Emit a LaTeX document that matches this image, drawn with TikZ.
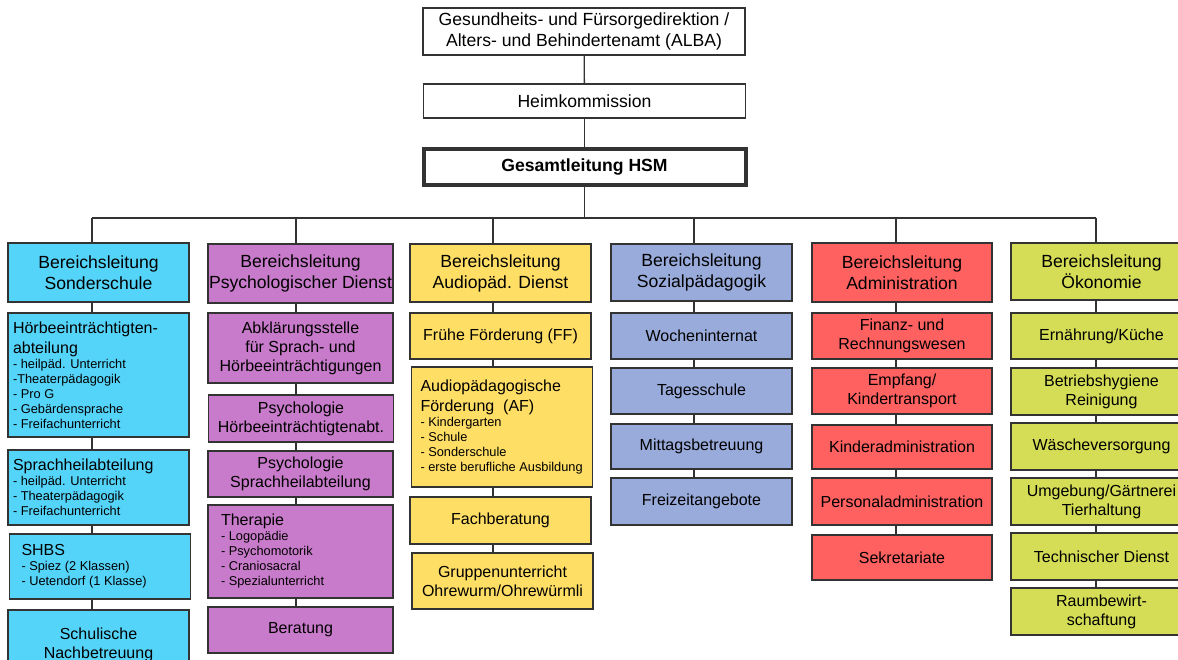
\documentclass[tikz,border=0pt]{standalone}
\usepackage{fontspec}
\setmainfont{Liberation Sans}
\usepackage{tikz}
\usetikzlibrary{calc,positioning}
\definecolor{mycyan}{RGB}{85,212,250}
\definecolor{mypurple}{RGB}{200,123,202}
\definecolor{myyellow}{RGB}{255,222,102}
\definecolor{mylavender}{RGB}{153,171,219}
\definecolor{myred}{RGB}{255,96,96}
\definecolor{myolive}{RGB}{212,221,85}
\newcommand{\bigfont}{\fontsize{17.6}{21}\selectfont}
\newcommand{\itemfont}{\fontsize{16}{19}\selectfont}
\newcommand{\smallfont}{\fontsize{12.8}{15}\selectfont}
\tikzstyle{box}=[draw=black!80,line width=1.5pt,inner sep=0pt,align=center,font=\itemfont]
\tikzstyle{topbox}=[box,fill=white,font=\bigfont,minimum width=322pt]
\tikzstyle{headbox}=[box,font=\bigfont]
\tikzstyle{listbox}=[box,align=flush left]
\tikzstyle{link}=[draw=black!80,line width=1.3pt]
\tikzstyle{sonder}=[fill=mycyan,minimum width=181pt]
\tikzstyle{psych}=[fill=mypurple,minimum width=185pt]
\tikzstyle{audio}=[fill=myyellow,minimum width=181pt]
\tikzstyle{sozial}=[fill=mylavender,minimum width=181pt]
\tikzstyle{admin}=[fill=myred,minimum width=180pt]
\tikzstyle{oeko}=[fill=myolive,minimum width=181pt]

\begin{document}
\begin{tikzpicture}[x=1pt,y=-1pt]
\clip (0,0) rectangle (1178,660);
\fill[white] (0,0) rectangle (1178,660);

% top of the hierarchy
\node [topbox, minimum height=47pt] (alba) at (584,31.5)
  {Gesundheits- und Fürsorgedirektion /\\Alters- und Behindertenamt (ALBA)};
\node [topbox, minimum height=34pt] (heim) at (584.5,101) {Heimkommission};
\node [topbox, minimum height=36pt, line width=4pt, font=\bigfont\bfseries] (gl) at (584.5,167) {Gesamtleitung HSM};

% Sonderschule
\node [headbox, sonder, minimum height=59pt] (son) at (98.5,272.5) {Bereichsleitung\\Sonderschule};
\node [listbox, sonder, minimum height=124pt, text width=171pt] (hoer) at (98.5,375)
  {Hörbeeinträchtigten-\\[1pt]abteilung\\\smallfont - heilpäd. Unterricht\\-Theaterpädagogik\\- Pro G\\- Gebärdensprache\\- Freifachunterricht\par};
\node [listbox, sonder, minimum height=75pt, text width=171pt] (spr) at (98.5,487.5)
  {Sprachheilabteilung\\\smallfont - heilpäd. Unterricht\\- Theaterpädagogik\\- Freifachunterricht\par};
\node [listbox, sonder, minimum height=65pt, text width=157pt] (shbs) at (100,566.5)
  {SHBS\\\smallfont - Spiez (2 Klassen)\\- Uetendorf (1 Klasse)\par};
\node [box, sonder, minimum height=70pt] (nach) at (98.5,645) {Schulische\\Nachbetreuung};

% Psychologischer Dienst
\node [headbox, psych, minimum height=59pt] (psy) at (300.5,273.5) {Bereichsleitung\\Psychologischer Dienst};
\node [box, psych, minimum height=70pt] (abkl) at (300.5,348)
  {Abklärungsstelle\\für Sprach- und\\Hörbeeinträchtigungen};
\node [box, psych, minimum height=47pt] (psyh) at (301,418.5) {Psychologie\\Hörbeeinträchtigtenabt.};
\node [box, psych, minimum height=46pt] (psys) at (300.5,474) {Psychologie\\Sprachheilabteilung};
\node [listbox, psych, minimum height=93pt, text width=159pt] (ther) at (300.5,551.5)
  {Therapie\\\smallfont - Logopädie\\- Psychomotorik\\- Craniosacral\\- Spezialunterricht\par};
\node [box, psych, minimum height=46pt] (ber) at (300.5,630) {Beratung};

% Audiopaedagogischer Dienst
\node [headbox, audio, minimum height=58pt] (aud) at (500.5,273) {Bereichsleitung\\Audiopäd. Dienst};
\node [box, audio, minimum height=46pt] (ff) at (500.5,336) {Frühe Förderung (FF)};
\node [listbox, audio, minimum height=120pt, text width=163pt] (af) at (502,427)
  {Audiopädagogische\\[1pt]Förderung~~(AF)\\\smallfont - Kindergarten\\- Schule\\- Sonderschule\\- erste berufliche Ausbildung\par};
\node [box, audio, minimum height=47pt] (fach) at (500.5,520.5) {Fachberatung};
\node [box, audio, minimum height=56pt] (grp) at (502.5,581) {Gruppenunterricht\\Ohrewurm/Ohrewürmli};

% Sozialpaedagogik
\node [headbox, sozial, minimum height=57pt] (soz) at (701.5,272.5) {Bereichsleitung\\Sozialpädagogik};
\node [box, sozial, minimum height=46pt] (woch) at (701.5,336) {Wocheninternat};
\node [box, sozial, minimum height=46pt] (tag) at (701.5,391) {Tagesschule};
\node [box, sozial, minimum height=45pt] (mitt) at (701.5,446.5) {Mittagsbetreuung};
\node [box, sozial, minimum height=47pt] (frei) at (701.5,501.5) {Freizeitangebote};

% Administration
\node [headbox, admin, minimum height=59pt] (adm) at (902,272.5) {Bereichsleitung\\Administration};
\node [box, admin, minimum height=46pt] (fin) at (902,336) {Finanz- und\\Rechnungswesen};
\node [box, admin, minimum height=46pt] (emp) at (902,391) {Empfang/\\Kindertransport};
\node [box, admin, minimum height=44pt] (kind) at (902,447) {Kinderadministration};
\node [box, admin, minimum height=47pt] (pers) at (902,501.5) {Personaladministration};
\node [box, admin, minimum height=45pt] (sek) at (902,557.5) {Sekretariate};

% Oekonomie
\node [headbox, oeko, minimum height=57pt] (oek) at (1101.5,271.5) {Bereichsleitung\\Ökonomie};
\node [box, oeko, minimum height=46pt] (ern) at (1101.5,336) {Ernährung/Küche};
\node [box, oeko, minimum height=47pt] (bet) at (1101.5,391.5) {Betriebshygiene\\Reinigung};
\node [box, oeko, minimum height=47pt] (wae) at (1101.5,446.5) {Wäscheversorgung};
\node [box, oeko, minimum height=47pt] (umg) at (1101.5,501.5) {Umgebung/Gärtnerei\\Tierhaltung};
\node [box, oeko, minimum height=47pt] (tec) at (1101.5,556.5) {Technischer Dienst};
\node [box, oeko, minimum height=47pt] (rau) at (1101.5,611.5) {Raumbewirt-\\schaftung};

% connectors
\coordinate (c1) at (92,218);
\coordinate (c2) at (296,218);
\coordinate (c3) at (493,218);
\coordinate (c4) at (694,218);
\coordinate (c5) at (896,218);
\coordinate (c6) at (1096,218);
\draw [link] (alba) -- (heim);
\draw [link] (heim) -- (gl);
\draw [link] (gl.south) -- (gl.south |- c1);
\draw [link] (c1) -- (c6);
\foreach \c/\h in {c1/son,c2/psy,c3/aud,c4/soz,c5/adm,c6/oek}
  \draw [link] (\c) -- (\c |- \h.north);
\foreach \c/\a/\b in {c1/son/hoer,c1/hoer/spr,c1/spr/shbs,c1/shbs/nach,
    c2/psy/abkl,c2/abkl/psyh,c2/psyh/psys,c2/psys/ther,c2/ther/ber,
    c3/aud/ff,c3/ff/af,c3/af/fach,c3/fach/grp,
    c4/soz/woch,c4/woch/tag,c4/tag/mitt,c4/mitt/frei,
    c5/adm/fin,c5/fin/emp,c5/emp/kind,c5/kind/pers,c5/pers/sek,
    c6/oek/ern,c6/ern/bet,c6/bet/wae,c6/wae/umg,c6/umg/tec,c6/tec/rau}
  \draw [link] (\c |- \a.south) -- (\c |- \b.north);
\end{tikzpicture}
\end{document}
